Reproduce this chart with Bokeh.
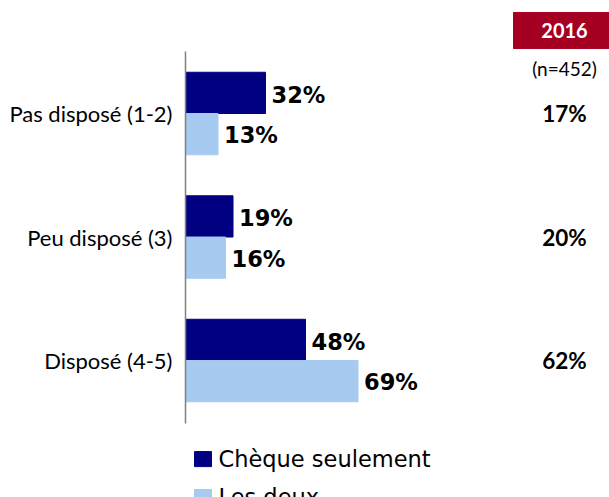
from bokeh.plotting import figure
from bokeh.models import Range1d, FixedTicker, ColumnDataSource
from bokeh.core.properties import value
from bokeh.embed import file_html
from bokeh.resources import INLINE

# ---- data ----
categories = ["Pas disposé (1-2)", "Peu disposé (3)", "Disposé (4-5)"]
series_names = ["Chèque seulement", "Les deux"]
cheque_seulement = [32, 19, 48]
les_deux = [13, 16, 69]
year_label = "2016"
n_label = "(n=452)"
total_2016 = [17, 20, 62]

DARK = "#000080"
LIGHT = "#A6CAF0"
RED = "#A50021"

pos = [len(categories) - 1 - i for i in range(len(categories))]
off = 0.167
bh = 0.334

p = figure(width=609, height=497, output_backend="svg", toolbar_location=None,
           x_range=Range1d(-2, 169.6), y_range=Range1d(-1.109, 2.915),
           min_border_left=180, min_border_right=0, min_border_top=0, min_border_bottom=0)
p.outline_line_color = None
p.grid.visible = False
p.xaxis.visible = False

yax = p.yaxis[0]
yax.ticker = FixedTicker(ticks=pos)
yax.major_label_overrides = {pv: c for pv, c in zip(pos, categories)}
yax.axis_line_color = None
yax.major_tick_line_color = None
yax.minor_tick_line_color = None
yax.major_tick_out = 0
yax.major_tick_in = 0
yax.minor_tick_out = 0
yax.minor_tick_in = 0
yax.major_label_standoff = 8
yax.major_label_text_font = "Lato"
yax.major_label_text_font_size = "22px"
yax.major_label_text_color = "#000000"

src = ColumnDataSource(dict(
    y_dark=[v + off for v in pos], y_light=[v - off for v in pos],
    cheque=cheque_seulement, deux=les_deux,
    cheque_lbl=[f"{v}%" for v in cheque_seulement],
    deux_lbl=[f"{v}%" for v in les_deux],
    ypos=pos, tot_lbl=[f"{v}%" for v in total_2016],
    xcol=[151.6] * len(pos),
))

p.hbar(y="y_dark", right="cheque", left=0, height=bh, color=DARK, source=src)
p.hbar(y="y_light", right="deux", left=0, height=bh, color=LIGHT, source=src)

# axis line
p.segment(x0=[0], y0=[-0.51], x1=[0], y1=[2.502], line_color="#808080", line_width=1.5)

p.text(x="cheque", y="y_dark", text="cheque_lbl", source=src, x_offset=6, y_offset=2,
       text_align="left", text_baseline="middle", text_font=value("DejaVu Sans"),
       text_font_style="bold", text_font_size="22.5px", text_color="#000000")
p.text(x="deux", y="y_light", text="deux_lbl", source=src, x_offset=6, y_offset=1,
       text_align="left", text_baseline="middle", text_font=value("DejaVu Sans"),
       text_font_style="bold", text_font_size="22.5px", text_color="#000000")

# right column
p.quad(left=[131.2], right=[175], top=[2.818], bottom=[2.526], color=RED)
p.text(x=[151.6], y=[2.672], text=[year_label], text_align="center", text_baseline="middle",
       text_font=value("Lato"), text_font_style="bold", text_font_size="20px", text_color="#FFFFFF")
p.text(x=[151.6], y=[2.364], text=[n_label], text_align="center", text_baseline="middle",
       text_font=value("Lato"), text_font_size="19px", text_color="#000000")
p.text(x="xcol", y="ypos", text="tot_lbl", source=src, text_align="center", text_baseline="middle",
       text_font=value("Lato"), text_font_style="bold", text_font_size="22.5px", text_color="#000000")

# legend (manual)
leg_y = [-0.798, -1.105]
p.quad(left=[3.6, 3.6], right=[10.4, 10.4], top=[y + 0.061 for y in leg_y],
       bottom=[y - 0.061 for y in leg_y], color=[DARK, LIGHT])
p.text(x=[13.2, 13.2], y=leg_y, text=series_names, text_align="left", text_baseline="middle",
       text_font=value("DejaVu Sans"), text_font_size="22.5px", text_color="#000000")

open("out.html", "w").write(file_html(p, INLINE))
